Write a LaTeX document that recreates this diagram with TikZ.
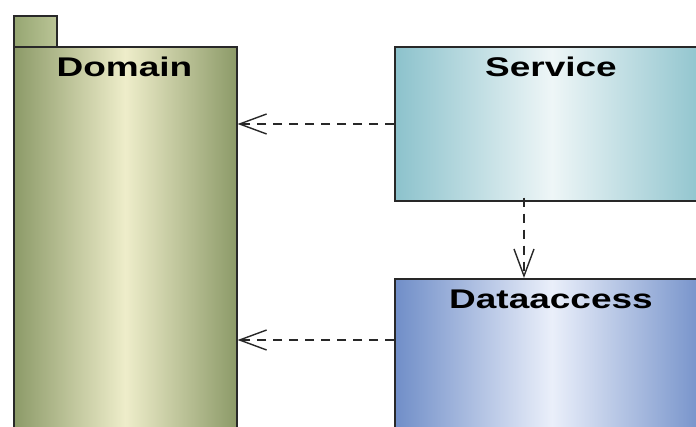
\documentclass[tikz,border=0pt]{standalone}
\usepackage{fontspec}
\setmainfont{Liberation Sans}
\usetikzlibrary{arrows.meta}
\definecolor{domEdge}{RGB}{140,154,104}
\definecolor{domMid}{RGB}{238,237,202}
\definecolor{tabLeft}{RGB}{150,166,114}
\definecolor{tabRight}{RGB}{186,196,150}
\definecolor{svcEdge}{RGB}{140,194,204}
\definecolor{svcMid}{RGB}{238,246,247}
\definecolor{daEdge}{RGB}{112,142,200}
\definecolor{daMid}{RGB}{234,239,250}
\definecolor{lineGray}{RGB}{40,40,40}
\begin{document}
\begin{tikzpicture}[x=1pt,y=-1pt,
  pkgbox/.style={draw=lineGray, line width=1.6pt, rectangle, anchor=north west, inner sep=0pt},
  domfill/.style={left color=domEdge, right color=domEdge, middle color=domMid},
  tabfill/.style={left color=tabLeft, right color=tabRight},
  svcfill/.style={left color=svcEdge, right color=svcEdge, middle color=svcMid},
  dafill/.style={left color=daEdge, right color=daEdge, middle color=daMid},
  pkglabel/.style={anchor=base, inner sep=0pt, font=\fontsize{27}{27}\selectfont\bfseries},
  dep/.style={draw=lineGray, line width=1.3pt, dash pattern=on 9pt off 7pt,
    -{Straight Barb[length=27pt, width=20pt, line width=1.4pt]}}
]
\useasboundingbox (0,0) rectangle (696,427);
\clip (0,0) rectangle (696,427);
\fill[white] (0,0) rectangle (696,427);

% Domain package: tab and body
\node[pkgbox, tabfill, minimum width=43pt, minimum height=31pt] (domtab) at (13,15) {};
\node[pkgbox, domfill, minimum width=223pt, minimum height=420pt] (dom) at (13,46) {};
\node[pkglabel] (domlbl) at (124.5,77) {\scalebox{1.37}[1]{Domain}};

% Service package
\node[pkgbox, svcfill, minimum width=314pt, minimum height=154pt] (svc) at (394,46) {};
\node[pkglabel] (svclbl) at (551,77) {\scalebox{1.37}[1]{Service}};

% Dataaccess package
\node[pkgbox, dafill, minimum width=314pt, minimum height=200pt] (da) at (394,278) {};
\node[pkglabel] (dalbl) at (551,309) {\scalebox{1.37}[1]{Dataaccess}};

% Dependencies
\coordinate (rowA) at (0,124);
\coordinate (rowB) at (0,340);
\coordinate (colC) at (524,0);
\draw[dep] (svc.west |- rowA) -- (dom.east |- rowA);
\draw[dep] (da.west |- rowB) -- (dom.east |- rowB);
\draw[dep] ([yshift=4pt]svc.south -| colC) -- (da.north -| colC);
\end{tikzpicture}
\end{document}
